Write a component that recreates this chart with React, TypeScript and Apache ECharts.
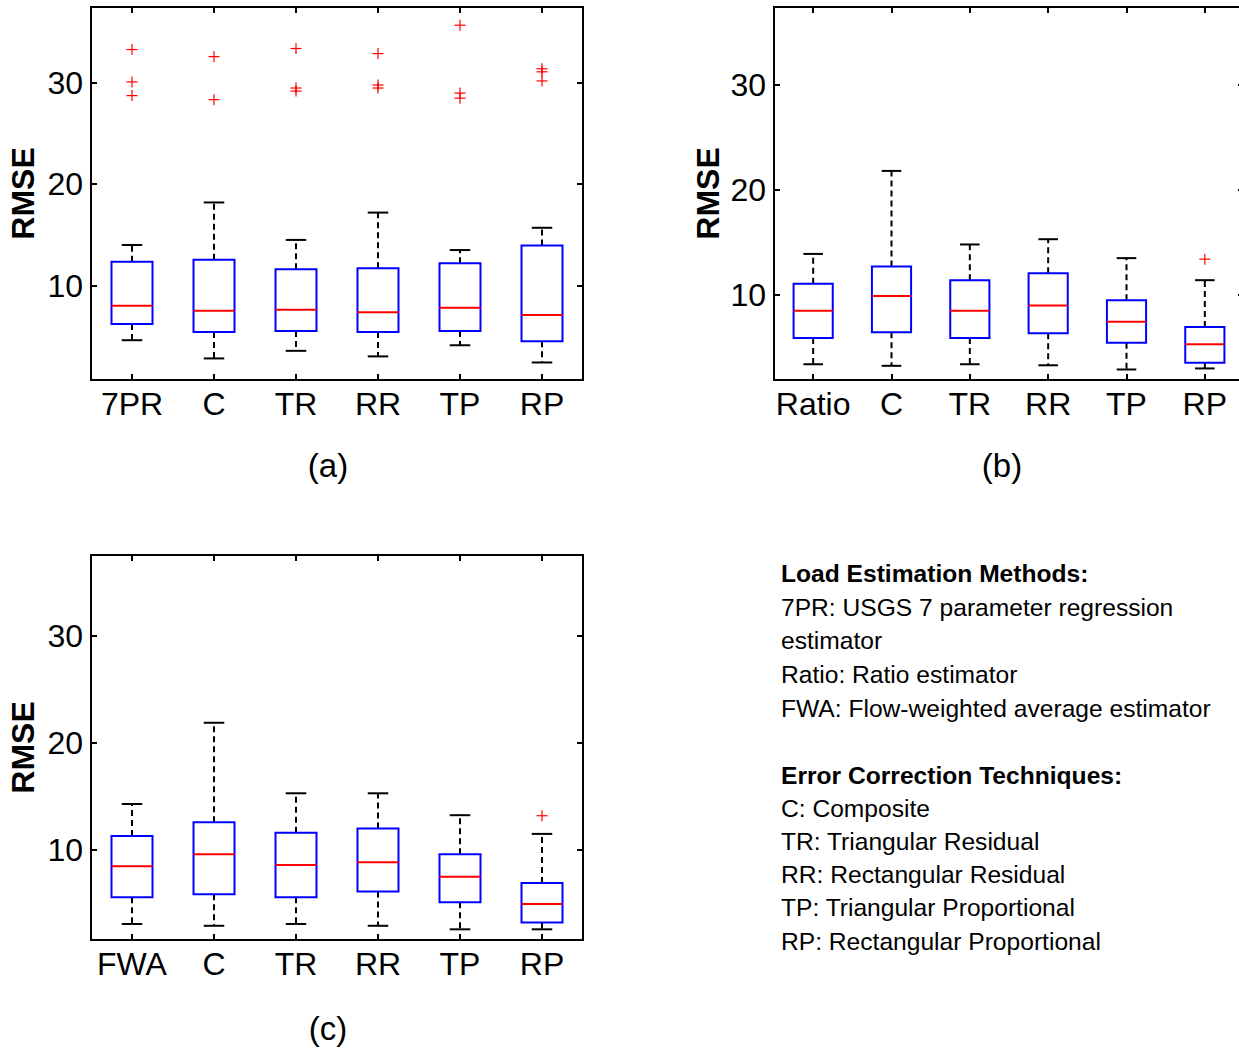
import React, { useEffect, useRef } from "react";
import * as echarts from "echarts";

// ---------- data ----------
const CATS_A = ["7PR", "C", "TR", "RR", "TP", "RP"];
const CATS_B = ["Ratio", "C", "TR", "RR", "TP", "RP"];
const CATS_C = ["FWA", "C", "TR", "RR", "TP", "RP"];

const LOW_A = [4.6, 2.8, 3.55, 3.0, 4.1, 2.4];
const Q1_A = [6.2, 5.4, 5.5, 5.4, 5.5, 4.5];
const MED_A = [8.0, 7.5, 7.6, 7.35, 7.8, 7.1];
const Q3_A = [12.35, 12.55, 11.6, 11.7, 12.2, 13.95];
const HIGH_A = [14.0, 18.2, 14.5, 17.2, 13.5, 15.7];
const OUT_A: [number, number][] = [
  [0, 33.3], [0, 30.1], [0, 28.75],
  [1, 32.6], [1, 28.35],
  [2, 33.4], [2, 29.5], [2, 29.2],
  [3, 32.9], [3, 29.8], [3, 29.5],
  [4, 35.7], [4, 29.0], [4, 28.5],
  [5, 31.4], [5, 31.1], [5, 30.2],
];

const LOW_B = [3.4, 3.25, 3.4, 3.3, 2.9, 3.0];
const Q1_B = [5.9, 6.45, 5.9, 6.35, 5.45, 3.55];
const MED_B = [8.5, 9.9, 8.5, 9.0, 7.45, 5.3];
const Q3_B = [11.05, 12.7, 11.4, 12.05, 9.5, 6.95];
const HIGH_B = [13.9, 21.8, 14.8, 15.3, 13.5, 11.4];
const OUT_B: [number, number][] = [[5, 13.4]];

const LOW_C = [3.07, 2.9, 3.07, 2.9, 2.57, 2.57];
const Q1_C = [5.57, 5.85, 5.57, 6.1, 5.1, 3.2];
const MED_C = [8.47, 9.6, 8.6, 8.85, 7.5, 4.95];
const Q3_C = [11.3, 12.6, 11.6, 12.0, 9.6, 6.9];
const HIGH_C = [14.3, 21.9, 15.3, 15.3, 13.25, 11.5];
const OUT_C: [number, number][] = [[5, 13.2]];

const Y_TICKS = [10, 20, 30];
const Y_RANGE_A = [0.67, 37.5];
const Y_RANGE_B = [1.9, 37.4];
const Y_RANGE_C = [1.57, 37.6];

const PANEL_LABELS = ["(a)", "(b)", "(c)"];
const Y_NAME = "RMSE";

const LEGEND_HEAD_1 = "Load Estimation Methods:";
const LEGEND_LINES_1 = [
  "7PR: USGS 7 parameter regression",
  "estimator",
  "Ratio: Ratio estimator",
  "FWA: Flow-weighted average estimator",
];
const LEGEND_HEAD_2 = "Error Correction Techniques:";
const LEGEND_LINES_2 = [
  "C: Composite",
  "TR: Triangular Residual",
  "RR: Rectangular Residual",
  "TP: Triangular Proportional",
  "RP: Rectangular Proportional",
];

// ---------- styles ----------
const NARROW = "'Liberation Sans Narrow', 'Arial Narrow', 'Liberation Sans', Arial, sans-serif";
const SANS = "'Liberation Sans', Arial, sans-serif";
const TICK_FONT = 32;

const GRIDS = [
  { left: 91, top: 7, width: 492, height: 373 },
  { left: 774, top: 7, width: 470, height: 373 },
  { left: 91, top: 555, width: 492, height: 385 },
];

function boxRows(low: number[], q1: number[], med: number[], q3: number[], high: number[]) {
  return low.map((_, i) => [i, low[i], q1[i], med[i], q3[i], high[i]]);
}

const renderBox = (params: any, api: any) => {
  const i = api.value(0);
  const pLow = api.coord([i, api.value(1)]);
  const pQ1 = api.coord([i, api.value(2)]);
  const pMed = api.coord([i, api.value(3)]);
  const pQ3 = api.coord([i, api.value(4)]);
  const pHigh = api.coord([i, api.value(5)]);
  const band = api.size([1, 0])[0];
  const half = band * 0.25;
  const cap = band * 0.125;
  const cx = pMed[0];
  const dash = { stroke: "#000", lineWidth: 2, lineDash: [6, 4], fill: "none" };
  const solid = { stroke: "#000", lineWidth: 2, fill: "none" };
  return {
    type: "group",
    children: [
      { type: "line", shape: { x1: cx, y1: pQ3[1], x2: cx, y2: pHigh[1] }, style: dash },
      { type: "line", shape: { x1: cx, y1: pQ1[1], x2: cx, y2: pLow[1] }, style: dash },
      { type: "line", shape: { x1: cx - cap, y1: pHigh[1], x2: cx + cap, y2: pHigh[1] }, style: solid },
      { type: "line", shape: { x1: cx - cap, y1: pLow[1], x2: cx + cap, y2: pLow[1] }, style: solid },
      {
        type: "rect",
        shape: { x: cx - half, y: pQ3[1], width: half * 2, height: pQ1[1] - pQ3[1] },
        style: { fill: "none", stroke: "#0000ff", lineWidth: 2 },
      },
      {
        type: "line",
        shape: { x1: cx - half, y1: pMed[1], x2: cx + half, y2: pMed[1] },
        style: { stroke: "#ff0000", lineWidth: 2 },
      },
    ],
  };
};

const renderPlus = (params: any, api: any) => {
  const p = api.coord([api.value(0), api.value(1)]);
  const s = 5.5;
  const st = { stroke: "#ff0000", lineWidth: 1.2 };
  return {
    type: "group",
    children: [
      { type: "line", shape: { x1: p[0] - s, y1: p[1], x2: p[0] + s, y2: p[1] }, style: st },
      { type: "line", shape: { x1: p[0], y1: p[1] - s, x2: p[0], y2: p[1] + s }, style: st },
    ],
  };
};

function buildOption() {
  const panels = [
    { cats: CATS_A, rows: boxRows(LOW_A, Q1_A, MED_A, Q3_A, HIGH_A), out: OUT_A, range: Y_RANGE_A, nameGap: 52 },
    { cats: CATS_B, rows: boxRows(LOW_B, Q1_B, MED_B, Q3_B, HIGH_B), out: OUT_B, range: Y_RANGE_B, nameGap: 50 },
    { cats: CATS_C, rows: boxRows(LOW_C, Q1_C, MED_C, Q3_C, HIGH_C), out: OUT_C, range: Y_RANGE_C, nameGap: 52 },
  ];
  const grid: any[] = [];
  const xAxis: any[] = [];
  const yAxis: any[] = [];
  const series: any[] = [];
  const tickStyle = { color: "#000", width: 2 };
  panels.forEach((p, k) => {
    grid.push({
      ...GRIDS[k], show: true, borderColor: "#000", borderWidth: 2, backgroundColor: "#fff",
      containLabel: false, outerBoundsMode: "none",
    });
    const xi = xAxis.length;
    xAxis.push({
      type: "category", gridIndex: k, data: p.cats, position: "bottom", boundaryGap: true,
      axisLine: { show: false },
      axisTick: { show: true, inside: true, alignWithLabel: true, length: 6, lineStyle: tickStyle, interval: 0 },
      axisLabel: { show: true, interval: 0, hideOverlap: false, fontSize: TICK_FONT, fontFamily: NARROW, color: "#000", margin: 8 },
      splitLine: { show: false },
    });
    xAxis.push({
      type: "category", gridIndex: k, data: p.cats, position: "top", boundaryGap: true,
      axisLine: { show: false },
      axisTick: { show: true, inside: true, alignWithLabel: true, length: 6, lineStyle: tickStyle, interval: 0 },
      axisLabel: { show: false }, splitLine: { show: false },
    });
    const yi = yAxis.length;
    yAxis.push({
      type: "value", gridIndex: k, min: p.range[0], max: p.range[1], position: "left",
      axisLine: { show: false },
      axisTick: { show: true, inside: true, length: 6, lineStyle: tickStyle, customValues: Y_TICKS },
      axisLabel: { show: true, fontSize: TICK_FONT, fontFamily: NARROW, color: "#000", margin: 8, customValues: Y_TICKS },
      splitLine: { show: false },
      name: Y_NAME, nameLocation: "middle", nameRotate: 90, nameGap: p.nameGap, nameMoveOverlap: false,
      nameTextStyle: { fontSize: 32, fontWeight: "bold", fontFamily: SANS, color: "#000" },
    });
    yAxis.push({
      type: "value", gridIndex: k, min: p.range[0], max: p.range[1], position: "right",
      axisLine: { show: false },
      axisTick: { show: true, inside: true, length: 6, lineStyle: tickStyle, customValues: Y_TICKS },
      axisLabel: { show: false }, splitLine: { show: false },
    });
    series.push({
      type: "custom", xAxisIndex: xi, yAxisIndex: yi, data: p.rows,
      encode: { x: 0, y: [1, 2, 3, 4, 5] }, renderItem: renderBox, silent: true,
    });
    series.push({
      type: "custom", xAxisIndex: xi, yAxisIndex: yi, data: p.out,
      encode: { x: 0, y: 1 }, renderItem: renderPlus, silent: true,
    });
  });

  const graphic: any[] = [];
  const labelPos = [[328, 465], [1002, 465], [328, 1028]];
  PANEL_LABELS.forEach((t, k) => {
    graphic.push({
      type: "text", x: labelPos[k][0], y: labelPos[k][1],
      style: { text: t, fontSize: 33, fontFamily: SANS, fill: "#000", textAlign: "center", textVerticalAlign: "middle" },
    });
  });
  const lx = 781;
  const addLine = (t: string, y: number, bold: boolean) =>
    graphic.push({
      type: "text", x: lx, y,
      style: {
        text: t, fontSize: 24.6, fontWeight: bold ? "bold" : "normal", fontFamily: SANS, fill: "#000",
        textAlign: "left", textVerticalAlign: "middle",
      },
    });
  addLine(LEGEND_HEAD_1, 573, true);
  LEGEND_LINES_1.forEach((t, i) => addLine(t, 607 + i * 33.7, false));
  addLine(LEGEND_HEAD_2, 775, true);
  LEGEND_LINES_2.forEach((t, i) => addLine(t, 808 + i * 33.3, false));

  return { animation: false, backgroundColor: "#fff", grid, xAxis, yAxis, series, graphic };
}

export default function App() {
  const ref = useRef<HTMLDivElement>(null);
  useEffect(() => {
    if (!ref.current) return;
    const chart = echarts.init(ref.current, null, { renderer: "svg" });
    chart.setOption(buildOption() as any);
    return () => chart.dispose();
  }, []);
  return (
    <div style={{ position: "absolute", left: 0, top: 0, width: 1239, height: 1051, overflow: "hidden", background: "#fff" }}>
      <div ref={ref} style={{ width: 1260, height: 1051 }} />
    </div>
  );
}
